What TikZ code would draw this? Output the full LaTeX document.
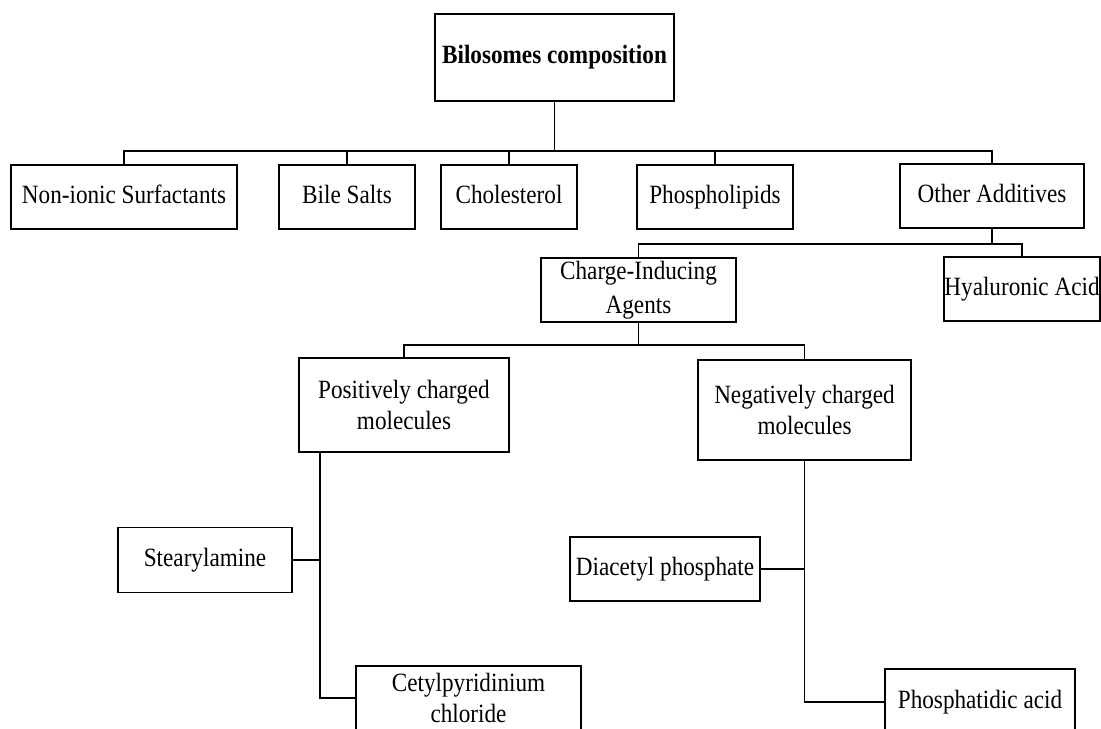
\documentclass[tikz,border=0pt]{standalone}
\usepackage{fontspec}
\setmainfont{Liberation Serif}[FakeStretch=0.88]
\tikzset{box/.style={draw,line width=0.7pt,align=center,inner sep=0pt,font=\fontsize{15}{18}\selectfont},
         oneline/.style={text height=2.1ex,text depth=0.6ex},
         size/.style 2 args={minimum width=#1*0.02cm,minimum height=#2*0.02cm}}

\begin{document}
\begin{tikzpicture}[
            x=0.02cm, y=-0.02cm,
            link/.style={draw,line width=0.7pt},
            stub/.style={draw,line width=1.2pt}
            ]
            \useasboundingbox (0,0) rectangle (1101,728);
            \clip (0,0) rectangle (1101,728);
            \node[box,oneline,size={239}{87},font=\fontsize{15}{18}\selectfont\bfseries] (bilosomes) at (554.5,57.5) {Bilosomes composition};
            \node[box,oneline,size={226}{64}] (nonionic) at (124,197) {Non-ionic Surfactants};
            \node[box,oneline,size={136}{64}] (bilesalts) at (347,197) {Bile Salts};
            \node[box,oneline,size={136}{64}] (cholesterol) at (509,197) {Cholesterol};
            \node[box,oneline,size={156}{64}] (phospholipids) at (715,197) {Phospholipids};
            \node[box,oneline,size={184}{64}] (additives) at (992,196) {Other Additives};
            \node[box,size={195}{64},font=\fontsize{15}{19}\selectfont] (charge) at (638.5,290) {Charge-Inducing\\Agents};
            \node[box,oneline,size={156}{64}] (hyaluronic) at (1022,289) {Hyaluronic Acid};
            \node[box,size={210}{94}] (positive) at (404,405) {Positively charged\\molecules};
            \node[box,size={213}{100}] (negative) at (804.5,410) {Negatively charged\\molecules};
            \node[box,oneline,size={174}{65}] (stearylamine) at (205,560) {Stearylamine};
            \node[box,size={225}{64}] (cetyl) at (468.5,698) {Cetylpyridinium\\chloride};
            \node[box,oneline,size={190}{64}] (diacetyl) at (665,569) {Diacetyl phosphate};
            \node[box,oneline,size={190}{66}] (phosphatidic) at (980,702) {Phosphatidic acid};

            \coordinate (forkA) at (554.5,151);
            \coordinate (forkB) at (992,244);
            \coordinate (forkC) at (638.5,345);
            \coordinate (trunkP) at (320,698);
            \draw[link] (bilosomes) -- (forkA);
            \foreach \n in {nonionic,bilesalts,cholesterol,phospholipids,additives}
                \draw[link] (forkA) -| (\n);
            \draw[link] (additives) -- (forkB);
            \draw[link] (forkB) -| (charge);
            \draw[link] (forkB) -| (hyaluronic);
            \draw[link] (charge) -- (forkC);
            \draw[link] (forkC) -| (positive);
            \draw[link] (forkC) -| (negative);
            \draw[link] (positive.south -| trunkP) -- (trunkP) -- (cetyl.west);
            \draw[stub] (stearylamine.east) -- (stearylamine.east -| trunkP);
            \draw[link] (negative) |- (phosphatidic);
            \draw[stub] (diacetyl.east) -- (diacetyl.east -| negative.south);
        \end{tikzpicture}
\end{document}
